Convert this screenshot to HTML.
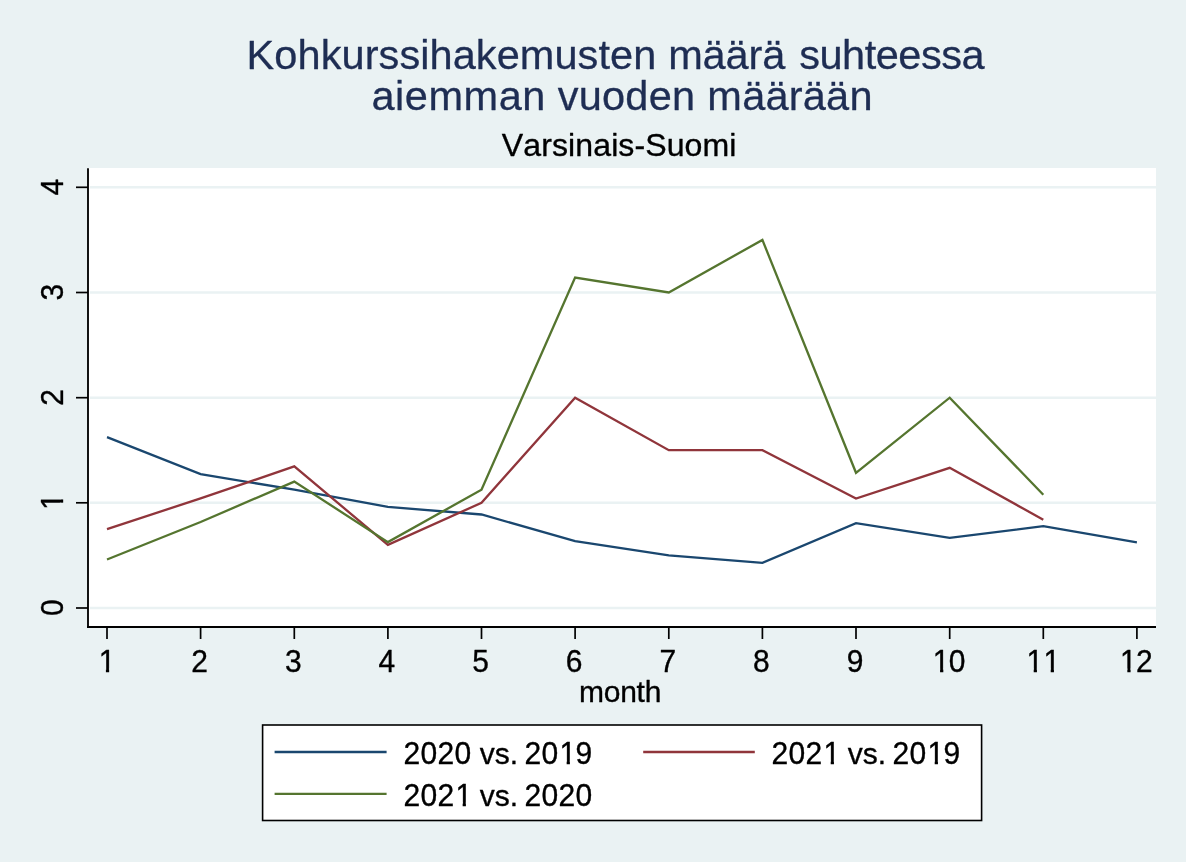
<!DOCTYPE html>
<html><head><meta charset="utf-8"><title>Kohkurssihakemusten määrä</title>
<style>
html,body{margin:0;padding:0;background:#eaf2f3;}
body{width:1186px;height:862px;overflow:hidden;}
svg{display:block;}
text{font-family:"Liberation Sans",sans-serif;font-kerning:none;stroke-linejoin:round;}
.sm text{stroke:#000;stroke-width:0.35px;}
.ti text{stroke:#1e2d53;stroke-width:0.3px;}
.gray{will-change:transform;}
</style></head><body>
<svg width="1186" height="862" viewBox="0 0 1186 862">
<rect x="0" y="0" width="1186" height="862" fill="#eaf2f3"/>
<rect x="88.0" y="168.0" width="1068.0" height="459.0" fill="#ffffff"/>
<line x1="90.0" x2="1156.0" y1="608.0" y2="608.0" stroke="#eaf2f3" stroke-width="2.4"/>
<line x1="90.0" x2="1156.0" y1="502.8" y2="502.8" stroke="#eaf2f3" stroke-width="2.4"/>
<line x1="90.0" x2="1156.0" y1="397.7" y2="397.7" stroke="#eaf2f3" stroke-width="2.4"/>
<line x1="90.0" x2="1156.0" y1="292.5" y2="292.5" stroke="#eaf2f3" stroke-width="2.4"/>
<line x1="90.0" x2="1156.0" y1="187.3" y2="187.3" stroke="#eaf2f3" stroke-width="2.4"/>
<polyline points="107.0,437.1 200.6,474.1 294.3,489.7 387.9,506.9 481.5,514.5 575.1,541.1 668.8,555.4 762.4,562.9 856.0,523.1 949.7,537.9 1043.3,526.2 1136.9,542.3" fill="none" stroke="#1a476f" stroke-width="2.3" stroke-linejoin="miter" stroke-linecap="butt"/>
<polyline points="107.0,529.1 200.6,498.4 294.3,466.4 387.9,544.9 481.5,502.8 575.1,397.7 668.8,450.2 762.4,450.2 856.0,498.6 949.7,467.8 1043.3,519.7" fill="none" stroke="#90353b" stroke-width="2.3" stroke-linejoin="miter" stroke-linecap="butt"/>
<polyline points="107.0,559.5 200.6,522.0 294.3,481.6 387.9,542.1 481.5,489.7 575.1,277.5 668.8,292.5 762.4,239.9 856.0,472.8 949.7,397.7 1043.3,494.7" fill="none" stroke="#55752f" stroke-width="2.3" stroke-linejoin="miter" stroke-linecap="butt"/>
<line x1="88.0" x2="88.0" y1="168.2" y2="627.9" stroke="#000" stroke-width="1.85"/>
<line x1="87.0" x2="1156.0" y1="627.0" y2="627.0" stroke="#000" stroke-width="1.85"/>
<line x1="76.0" x2="88.0" y1="608.0" y2="608.0" stroke="#000" stroke-width="1.7"/>
<line x1="76.0" x2="88.0" y1="502.8" y2="502.8" stroke="#000" stroke-width="1.7"/>
<line x1="76.0" x2="88.0" y1="397.7" y2="397.7" stroke="#000" stroke-width="1.7"/>
<line x1="76.0" x2="88.0" y1="292.5" y2="292.5" stroke="#000" stroke-width="1.7"/>
<line x1="76.0" x2="88.0" y1="187.3" y2="187.3" stroke="#000" stroke-width="1.7"/>
<line x1="107.0" x2="107.0" y1="627.0" y2="639.0" stroke="#000" stroke-width="1.7"/>
<line x1="200.6" x2="200.6" y1="627.0" y2="639.0" stroke="#000" stroke-width="1.7"/>
<line x1="294.3" x2="294.3" y1="627.0" y2="639.0" stroke="#000" stroke-width="1.7"/>
<line x1="387.9" x2="387.9" y1="627.0" y2="639.0" stroke="#000" stroke-width="1.7"/>
<line x1="481.5" x2="481.5" y1="627.0" y2="639.0" stroke="#000" stroke-width="1.7"/>
<line x1="575.1" x2="575.1" y1="627.0" y2="639.0" stroke="#000" stroke-width="1.7"/>
<line x1="668.8" x2="668.8" y1="627.0" y2="639.0" stroke="#000" stroke-width="1.7"/>
<line x1="762.4" x2="762.4" y1="627.0" y2="639.0" stroke="#000" stroke-width="1.7"/>
<line x1="856.0" x2="856.0" y1="627.0" y2="639.0" stroke="#000" stroke-width="1.7"/>
<line x1="949.7" x2="949.7" y1="627.0" y2="639.0" stroke="#000" stroke-width="1.7"/>
<line x1="1043.3" x2="1043.3" y1="627.0" y2="639.0" stroke="#000" stroke-width="1.7"/>
<line x1="1136.9" x2="1136.9" y1="627.0" y2="639.0" stroke="#000" stroke-width="1.7"/>
<rect x="262.6" y="725" width="719" height="95.5" fill="#ffffff" stroke="#000" stroke-width="1.6"/>
<line x1="274.6" x2="386.6" y1="752.0" y2="752.0" stroke="#1a476f" stroke-width="2.3"/>
<line x1="643.2" x2="754.8" y1="752.0" y2="752.0" stroke="#90353b" stroke-width="2.3"/>
<line x1="274.6" x2="386.6" y1="793.85" y2="793.85" stroke="#55752f" stroke-width="2.3"/>
<g class="gray sm">
<g transform="translate(63.40,616.10) rotate(-90) scale(1,1.061)"><text x="0" y="0" dx="0" font-size="30.0" fill="#000" style="letter-spacing:0.315px">0</text></g>
<g transform="translate(63.40,510.93) rotate(-90) scale(1,1.061)"><text x="0" y="0" dx="1" font-size="30.0" fill="#000" style="letter-spacing:0.315px">1</text><rect x="1.59" y="-3.24" width="6.66" height="4.84" fill="#eaf2f3"/><rect x="11.50" y="-3.24" width="6.42" height="4.84" fill="#eaf2f3"/></g>
<g transform="translate(63.40,405.76) rotate(-90) scale(1,1.061)"><text x="0" y="0" dx="0" font-size="30.0" fill="#000" style="letter-spacing:0.315px">2</text></g>
<g transform="translate(63.40,300.59) rotate(-90) scale(1,1.061)"><text x="0" y="0" dx="0" font-size="30.0" fill="#000" style="letter-spacing:0.315px">3</text></g>
<g transform="translate(63.40,195.42) rotate(-90) scale(1,1.061)"><text x="0" y="0" dx="0" font-size="30.0" fill="#000" style="letter-spacing:0.315px">4</text></g>
<g transform="translate(97.65,672.00) scale(1,1.061)"><text x="0" y="0" dx="1" font-size="30.0" fill="#000" style="letter-spacing:0.315px">1</text><rect x="1.59" y="-3.24" width="6.66" height="4.84" fill="#eaf2f3"/><rect x="11.50" y="-3.24" width="6.42" height="4.84" fill="#eaf2f3"/></g>
<g transform="translate(191.28,672.00) scale(1,1.061)"><text x="0" y="0" dx="0" font-size="30.0" fill="#000" style="letter-spacing:0.315px">2</text></g>
<g transform="translate(284.91,672.00) scale(1,1.061)"><text x="0" y="0" dx="0" font-size="30.0" fill="#000" style="letter-spacing:0.315px">3</text></g>
<g transform="translate(378.54,672.00) scale(1,1.061)"><text x="0" y="0" dx="0" font-size="30.0" fill="#000" style="letter-spacing:0.315px">4</text></g>
<g transform="translate(472.17,672.00) scale(1,1.061)"><text x="0" y="0" dx="0" font-size="30.0" fill="#000" style="letter-spacing:0.315px">5</text></g>
<g transform="translate(565.80,672.00) scale(1,1.061)"><text x="0" y="0" dx="0" font-size="30.0" fill="#000" style="letter-spacing:0.315px">6</text></g>
<g transform="translate(659.43,672.00) scale(1,1.061)"><text x="0" y="0" dx="0" font-size="30.0" fill="#000" style="letter-spacing:0.315px">7</text></g>
<g transform="translate(753.06,672.00) scale(1,1.061)"><text x="0" y="0" dx="0" font-size="30.0" fill="#000" style="letter-spacing:0.315px">8</text></g>
<g transform="translate(846.69,672.00) scale(1,1.061)"><text x="0" y="0" dx="0" font-size="30.0" fill="#000" style="letter-spacing:0.315px">9</text></g>
<g transform="translate(931.82,672.00) scale(1,1.061)"><text x="0" y="0" dx="1 -1" font-size="30.0" fill="#000" style="letter-spacing:0.315px">10</text><rect x="1.59" y="-3.24" width="6.66" height="4.84" fill="#eaf2f3"/><rect x="11.50" y="-3.24" width="6.42" height="4.84" fill="#eaf2f3"/></g>
<g transform="translate(1025.45,672.00) scale(1,1.061)"><text x="0" y="0" dx="1 0" font-size="30.0" fill="#000" style="letter-spacing:0.315px">11</text><rect x="1.59" y="-3.24" width="6.66" height="4.84" fill="#eaf2f3"/><rect x="11.50" y="-3.24" width="6.42" height="4.84" fill="#eaf2f3"/><rect x="18.59" y="-3.24" width="6.66" height="4.84" fill="#eaf2f3"/><rect x="28.50" y="-3.24" width="6.42" height="4.84" fill="#eaf2f3"/></g>
<g transform="translate(1119.08,672.00) scale(1,1.061)"><text x="0" y="0" dx="1 -1" font-size="30.0" fill="#000" style="letter-spacing:0.315px">12</text><rect x="1.59" y="-3.24" width="6.66" height="4.84" fill="#eaf2f3"/><rect x="11.50" y="-3.24" width="6.42" height="4.84" fill="#eaf2f3"/></g>
<text x="579.0" y="701.6" font-size="30.0" fill="#000" style="letter-spacing:-0.25px">month</text>
</g><g class="gray ti">
<text x="246.6" y="68.5" font-size="41.5" fill="#1e2d53" style="letter-spacing:0.078px">Kohkurssihakemusten</text>
<text x="668.15" y="68.5" font-size="41.5" fill="#1e2d53" style="letter-spacing:-0.125px">määrä</text>
<text x="799.25" y="68.5" font-size="41.5" fill="#1e2d53" style="letter-spacing:-0.49px">suhteessa</text>
<text x="371.45" y="109.8" font-size="41.5" fill="#1e2d53" style="letter-spacing:0.54px">aiemman</text>
<text x="557.65" y="109.8" font-size="41.5" fill="#1e2d53" style="letter-spacing:0.27px">vuoden</text>
<text x="707.35" y="109.8" font-size="41.5" fill="#1e2d53" style="letter-spacing:0.225px">määrään</text>
</g><g class="gray sm">
<text x="501.85" y="156.2" font-size="32.1" fill="#000" style="letter-spacing:0.075px">Varsinais-Suomi</text>
<g transform="translate(403.40,764.00) scale(1,1.056)"><text x="0" y="0" dx="0 0 0 0" font-size="30.0" fill="#000" style="letter-spacing:0.315px">2020</text></g>
<text x="479.80" y="764.0" font-size="30.0" fill="#000">vs.</text>
<g transform="translate(524.40,764.00) scale(1,1.056)"><text x="0" y="0" dx="0 0 1 -1" font-size="30.0" fill="#000" style="letter-spacing:0.315px">2019</text><rect x="35.59" y="-3.24" width="6.66" height="4.84" fill="#ffffff"/><rect x="45.50" y="-3.24" width="6.42" height="4.84" fill="#ffffff"/></g>
<g transform="translate(771.45,764.00) scale(1,1.056)"><text x="0" y="0" dx="0 0 0 1" font-size="30.0" fill="#000" style="letter-spacing:0.315px">2021</text><rect x="52.59" y="-3.24" width="6.66" height="4.84" fill="#ffffff"/><rect x="62.50" y="-3.24" width="6.42" height="4.84" fill="#ffffff"/></g>
<text x="847.85" y="764.0" font-size="30.0" fill="#000">vs.</text>
<g transform="translate(892.45,764.00) scale(1,1.056)"><text x="0" y="0" dx="0 0 1 -1" font-size="30.0" fill="#000" style="letter-spacing:0.315px">2019</text><rect x="35.59" y="-3.24" width="6.66" height="4.84" fill="#ffffff"/><rect x="45.50" y="-3.24" width="6.42" height="4.84" fill="#ffffff"/></g>
<g transform="translate(403.40,805.80) scale(1,1.056)"><text x="0" y="0" dx="0 0 0 1" font-size="30.0" fill="#000" style="letter-spacing:0.315px">2021</text><rect x="52.59" y="-3.24" width="6.66" height="4.84" fill="#ffffff"/><rect x="62.50" y="-3.24" width="6.42" height="4.84" fill="#ffffff"/></g>
<text x="479.80" y="805.8" font-size="30.0" fill="#000">vs.</text>
<g transform="translate(524.40,805.80) scale(1,1.056)"><text x="0" y="0" dx="0 0 0 0" font-size="30.0" fill="#000" style="letter-spacing:0.315px">2020</text></g>
</g>
</svg></body></html>
